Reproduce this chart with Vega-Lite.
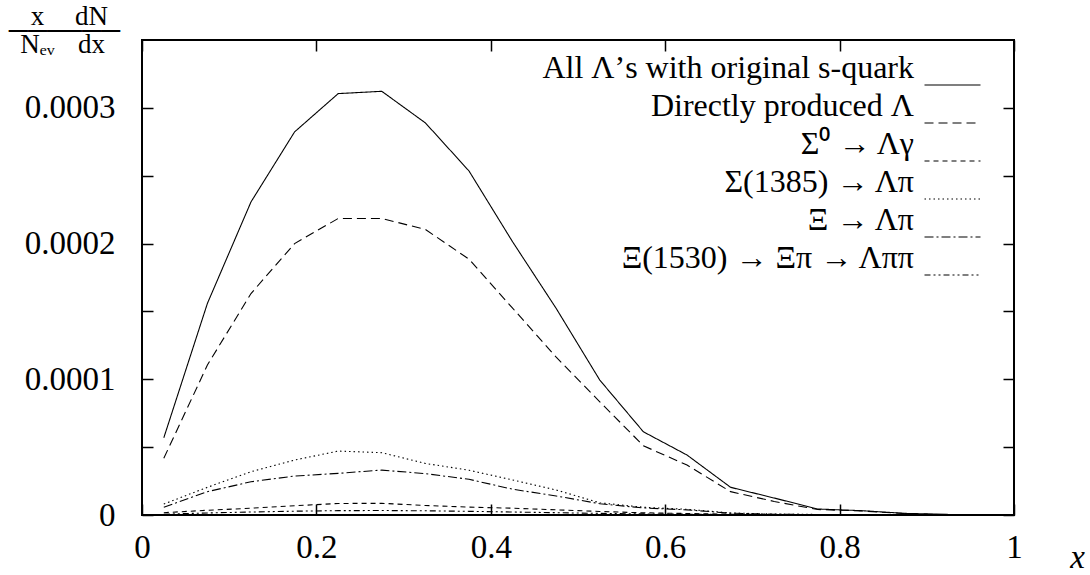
{
  "$schema": "https://vega.github.io/schema/vega-lite/v6.json",
  "width": 872,
  "height": 475,
  "autosize": {"type": "none"},
  "padding": {"left": 142, "top": 40, "right": 76, "bottom": 60},
  "background": "white",
  "config": {
    "view": {"stroke": "#000", "strokeWidth": 2},
    "font": "Liberation Serif",
    "axis": {
      "grid": false,
      "domain": false,
      "tickColor": "#000",
      "tickWidth": 1.5,
      "tickSize": -11,
      "labelColor": "#000",
      "labelFont": "Liberation Serif",
      "labelFontSize": 33,
      "titleColor": "#000",
      "titleFont": "Liberation Serif",
      "titleFontWeight": "normal",
      "labelFlush": false,
      "labelOverlap": false
    }
  },
  "data": {
    "values": [
      {"x": 0.025, "all": 0.0000569, "dir": 0.0000418, "s0": 0.0000017, "s1385": 0.0000081, "xi": 0.0000057, "xi1530": 0.0000006},
      {"x": 0.075, "all": 0.0001559, "dir": 0.0001105, "s0": 0.0000035, "s1385": 0.0000204, "xi": 0.0000172, "xi1530": 0.0000015},
      {"x": 0.125, "all": 0.0002307, "dir": 0.0001632, "s0": 0.000005, "s1385": 0.0000319, "xi": 0.0000245, "xi1530": 0.0000022},
      {"x": 0.175, "all": 0.0002823, "dir": 0.0002, "s0": 0.0000068, "s1385": 0.0000405, "xi": 0.0000287, "xi1530": 0.0000028},
      {"x": 0.225, "all": 0.0003105, "dir": 0.0002185, "s0": 0.0000085, "s1385": 0.0000471, "xi": 0.0000307, "xi1530": 0.0000032},
      {"x": 0.275, "all": 0.0003122, "dir": 0.0002185, "s0": 0.0000086, "s1385": 0.0000459, "xi": 0.0000331, "xi1530": 0.0000033},
      {"x": 0.325, "all": 0.0002889, "dir": 0.0002104, "s0": 0.000007, "s1385": 0.000038, "xi": 0.0000305, "xi1530": 0.0000031},
      {"x": 0.375, "all": 0.0002535, "dir": 0.0001885, "s0": 0.0000058, "s1385": 0.000033, "xi": 0.0000263, "xi1530": 0.0000027},
      {"x": 0.425, "all": 0.0002013, "dir": 0.0001524, "s0": 0.000005, "s1385": 0.0000258, "xi": 0.000019, "xi1530": 0.0000022},
      {"x": 0.475, "all": 0.0001522, "dir": 0.0001163, "s0": 0.0000038, "s1385": 0.0000184, "xi": 0.000014, "xi1530": 0.0000017},
      {"x": 0.525, "all": 0.0000994, "dir": 0.0000834, "s0": 0.0000026, "s1385": 0.000009, "xi": 0.0000083, "xi1530": 0.0000012},
      {"x": 0.575, "all": 0.0000613, "dir": 0.000051, "s0": 0.0000016, "s1385": 0.0000057, "xi": 0.0000052, "xi1530": 0.0000008},
      {"x": 0.625, "all": 0.0000442, "dir": 0.0000368, "s0": 0.0000011, "s1385": 0.0000042, "xi": 0.0000038, "xi1530": 0.0000006},
      {"x": 0.675, "all": 0.0000204, "dir": 0.0000172, "s0": 0.0000006, "s1385": 0.0000015, "xi": 0.0000013, "xi1530": 0.0000003},
      {"x": 0.725, "all": 0.0000125, "dir": 0.00001, "s0": 0.0000003, "s1385": 0.0000007, "xi": 0.0000006, "xi1530": 0.00000015},
      {"x": 0.775, "all": 0.0000044, "dir": 0.000004, "s0": 0.00000015, "s1385": 0.0000004, "xi": 0.0000003, "xi1530": 0.00000008},
      {"x": 0.825, "all": 0.0000032, "dir": 0.000003, "s0": 0.00000008, "s1385": 0.0000002, "xi": 0.00000015, "xi1530": 0.00000004},
      {"x": 0.875, "all": 0.0000012, "dir": 0.000001, "s0": 0.00000004, "s1385": 0.0000001, "xi": 0.00000008, "xi1530": 0.00000002},
      {"x": 0.925, "all": 0.0000004, "dir": 0.0000003, "s0": 0.00000002, "s1385": 0.00000005, "xi": 0.00000003, "xi1530": 0.00000001},
      {"x": 0.975, "all": 0.0000001, "dir": 0.0000001, "s0": 0.00000001, "s1385": 0.00000002, "xi": 0.00000001, "xi1530": 0.000000005}
    ]
  },
  "transform": [
    {"fold": ["all", "dir", "s0", "s1385", "xi", "xi1530"], "as": ["s", "v"]}
  ],
  "layer": [
    {
      "mark": {"type": "line", "strokeWidth": 1.1, "color": "#000", "clip": true},
      "encoding": {
        "x": {
          "field": "x", "type": "quantitative",
          "scale": {"domain": [0, 1], "nice": false, "zero": false},
          "axis": {
            "orient": "bottom",
            "values": [0, 0.2, 0.4, 0.6, 0.8, 1],
            "format": "~g",
            "labelBaseline": "alphabetic",
            "labelPadding": 53,
            "title": "x",
            "titleFontStyle": "italic",
            "titleFontSize": 33,
            "titleX": 935,
            "titleY": 52,
            "titleBaseline": "alphabetic",
            "titleAlign": "center"
          }
        },
        "y": {
          "field": "v", "type": "quantitative",
          "scale": {"domain": [0, 0.00035], "nice": false},
          "axis": {
            "orient": "left",
            "values": [0, 0.00005, 0.0001, 0.00015, 0.0002, 0.00025, 0.0003],
            "labelExpr": "datum.value == 0 ? '0' : (abs(round(datum.value * 20000)) % 2 == 0 ? format(datum.value, '.4f') : '')",
            "labelPadding": 38,
            "title": ["x", "───", "Nₑᵥ"],
            "titleAngle": 0,
            "titleAlign": "center",
            "titleBaseline": "alphabetic",
            "titleFontSize": 27,
            "titleLineHeight": 14,
            "titleX": -105,
            "titleY": -16
          }
        },
        "strokeDash": {
          "field": "s", "type": "nominal",
          "scale": {
            "domain": ["all", "dir", "s0", "s1385", "xi", "xi1530"],
            "range": [[1, 0], [9, 5], [5, 4], [1.5, 3], [9, 3, 2, 3], [6, 3, 2, 3, 2, 3]]
          },
          "legend": {
            "orient": "none",
            "legendX": 794.5,
            "legendY": 29,
            "title": null,
            "padding": 0,
            "symbolType": "M-2.8,0H2.8",
            "symbolSize": 400,
            "symbolStrokeWidth": 1.1,
            "symbolStrokeColor": "#000",
            "symbolFillColor": "transparent",
            "labelAlign": "right",
            "labelOffset": -54.5,
            "labelFont": "Liberation Serif",
            "labelFontSize": 32,
            "labelColor": "#000",
            "labelBaseline": "bottom",
            "labelLimit": 800,
            "rowPadding": 2,
            "labelExpr": "datum.label == 'all' ? 'All Λ’s with original s-quark' : datum.label == 'dir' ? 'Directly produced Λ' : datum.label == 's0' ? 'Σ⁰ → Λγ' : datum.label == 's1385' ? 'Σ(1385) → Λπ' : datum.label == 'xi' ? 'Ξ → Λπ' : 'Ξ(1530) → Ξπ → Λππ'"
          }
        }
      }
    },
    {
      "mark": {"type": "line", "opacity": 0, "strokeOpacity": 0},
      "encoding": {
        "detail": {"field": "s", "type": "nominal"},
        "x": {
          "field": "x", "type": "quantitative",
          "scale": {"domain": [0, 1], "nice": false, "zero": false},
          "axis": {"orient": "top", "values": [0, 0.2, 0.4, 0.6, 0.8, 1], "labels": false, "title": null}
        },
        "y": {
          "field": "v", "type": "quantitative",
          "scale": {"domain": [0, 0.00035], "nice": false},
          "axis": {
            "orient": "right",
            "values": [0, 0.00005, 0.0001, 0.00015, 0.0002, 0.00025, 0.0003],
            "labels": false,
            "title": ["dN", "───", "dx"],
            "titleAngle": 0,
            "titleAlign": "center",
            "titleBaseline": "alphabetic",
            "titleFontSize": 27,
            "titleLineHeight": 14,
            "titleX": -923,
            "titleY": -16
          }
        }
      }
    }
  ],
  "resolve": {"axis": {"x": "independent", "y": "independent"}}
}
